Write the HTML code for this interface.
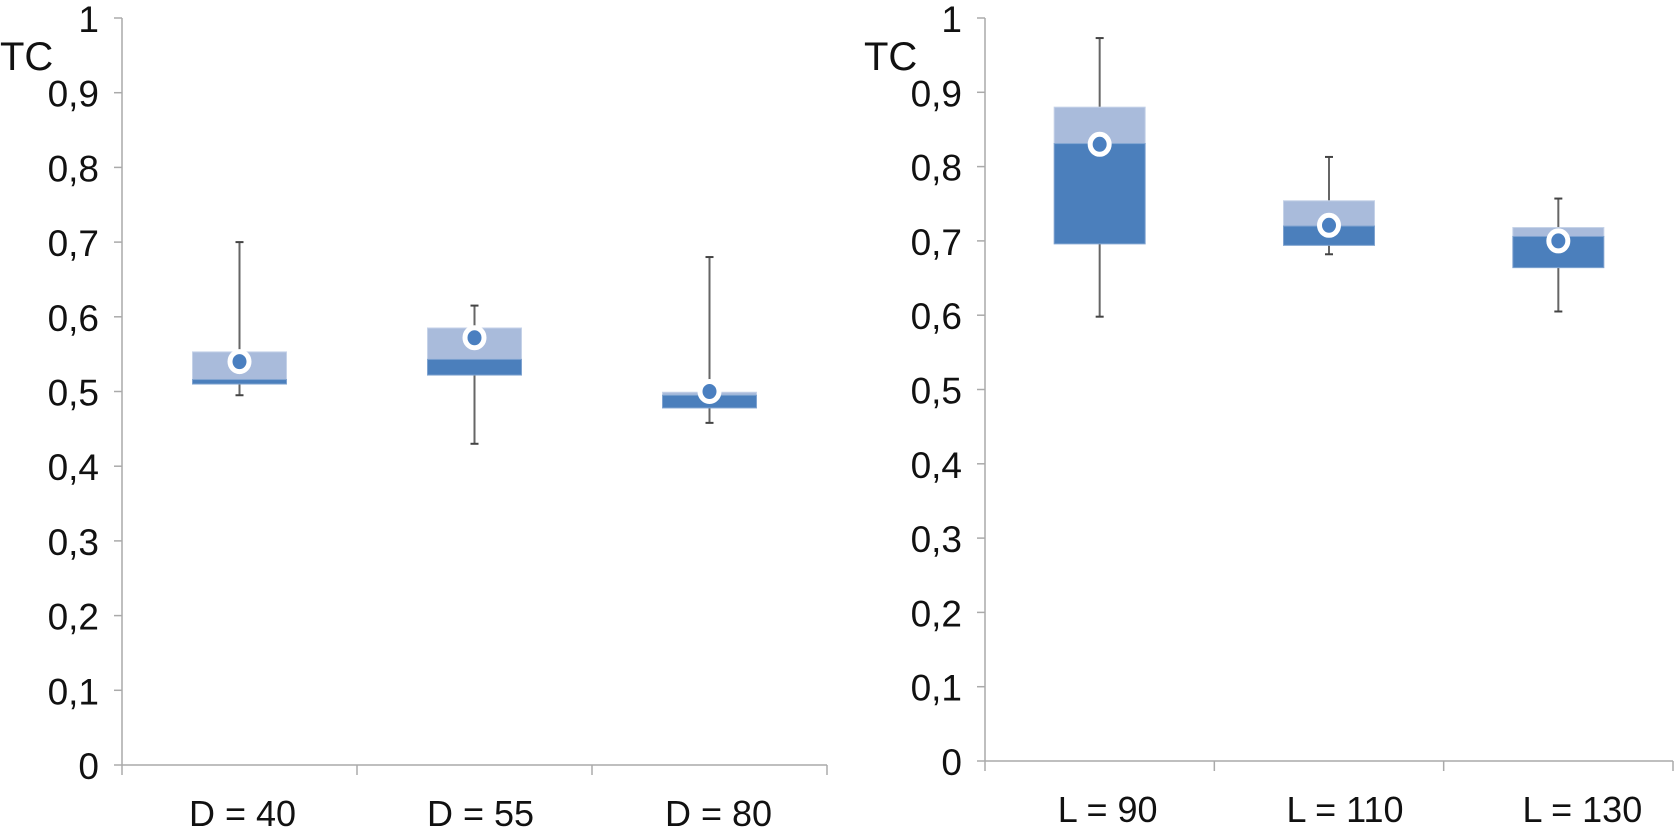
<!DOCTYPE html>
<html><head><meta charset="utf-8"><style>
html,body{margin:0;padding:0;background:#fff;}
svg{display:block;font-family:"Liberation Sans",Arial,sans-serif;}
</style></head><body>
<svg id="chart" width="1676" height="840" viewBox="0 0 1676 840"></svg>
<script>
const leftCategories = ["D = 40","D = 55","D = 80"];
const leftWhiskerLow = [0.495,0.43,0.458];
const leftWhiskerHigh = [0.70,0.615,0.68];
const leftQ1 = [0.51,0.522,0.478];
const leftMedian = [0.516,0.543,0.495];
const leftQ3 = [0.553,0.585,0.499];
const leftMean = [0.54,0.572,0.50];

const rightCategories = ["L = 90","L = 110","L = 130"];
const rightWhiskerLow = [0.598,0.682,0.605];
const rightWhiskerHigh = [0.973,0.813,0.757];
const rightQ1 = [0.696,0.694,0.664];
const rightMedian = [0.831,0.72,0.706];
const rightQ3 = [0.88,0.754,0.718];
const rightMean = [0.83,0.721,0.70];

const yTickLabels = ["0","0,1","0,2","0,3","0,4","0,5","0,6","0,7","0,8","0,9","1"];

const svg = document.getElementById('chart');
const NS = 'http://www.w3.org/2000/svg';
function mk(tag, attrs, parent){
  const e = document.createElementNS(NS, tag);
  for (const k in attrs) e.setAttribute(k, attrs[k]);
  (parent||svg).appendChild(e);
  return e;
}

function drawPanel(p){
  const g = mk('g', {});
  
  
  const y = v => p.y0 - v * (p.y0 - p.y1);
  const n = p.cats.length;
  const bw = (p.xEnd - p.x0) / n;
  const x = i => p.x0 + bw * (i + 0.5);
  const ya = mk('line', {x1:p.x0, y1:p.y1, x2:p.x0, y2:p.y0, stroke:'#aaa', 'stroke-width':1.5}, g);
  
  
  yTickLabels.forEach((t, i) => {
    const v = i / 10;
    mk('line', {x1:p.x0-8, y1:y(v), x2:p.x0, y2:y(v), stroke:'#aaa', 'stroke-width':1.5}, g);
    const tx = mk('text', {x:p.x0-23, y:y(v)+14, 'font-size':37, 'text-anchor':'end', fill:'#111'}, g);
    tx.textContent = t;
    
    
  });
  const title = mk('text', {x:p.titleX, y:70, 'font-size':40, fill:'#111'}, g);
  title.textContent = 'TC';
  
  
  const xa = mk('line', {x1:p.x0, y1:p.y0, x2:p.xEnd, y2:p.y0, stroke:'#aaa', 'stroke-width':1.5}, g);
  
  
  for (let i = 0; i <= n; i++) {
    mk('line', {x1:p.x0+bw*i, y1:p.y0, x2:p.x0+bw*i, y2:p.y0+10, stroke:'#aaa', 'stroke-width':1.5}, g);
  }
  p.cats.forEach((c, i) => {
    const cx = x(i);
    const lab = mk('text', {x:cx + p.labelShift*(i+1), y:p.y0+61, 'font-size':36, 'text-anchor':'middle', fill:'#111'}, g);
    lab.textContent = c;
    
    
    const w = mk('line', {x1:cx, y1:y(p.lo[i]), x2:cx, y2:y(p.hi[i]), stroke:'#666', 'stroke-width':2}, g);
    
    
    mk('line', {x1:cx-4, y1:y(p.lo[i]), x2:cx+4, y2:y(p.lo[i]), stroke:'#444', 'stroke-width':2}, g);
    mk('line', {x1:cx-4, y1:y(p.hi[i]), x2:cx+4, y2:y(p.hi[i]), stroke:'#444', 'stroke-width':2}, g);
    const bx = cx - p.boxW/2;
    const upper = mk('rect', {x:bx, y:y(p.q3[i]), width:p.boxW, height:y(p.med[i])-y(p.q3[i]), fill:'#a9bbdb', stroke:'#c5d2e8', 'stroke-width':1}, g);
    
    
    const lower = mk('rect', {x:bx, y:y(p.med[i]), width:p.boxW, height:y(p.q1[i])-y(p.med[i]), fill:'#4b7fbc', stroke:'#7fa3d0', 'stroke-width':1}, g);
    
    
    const m = mk('ellipse', {cx:cx, cy:y(p.mean[i]), rx:9.5, ry:10, fill:'#4a7fc0', stroke:'#fff', 'stroke-width':5}, g);
    
    
  });
}

drawPanel({name:'left-panel', cats:leftCategories, lo:leftWhiskerLow, hi:leftWhiskerHigh, q1:leftQ1, med:leftMedian, q3:leftQ3, mean:leftMean,
  x0:122, xEnd:827, y0:765, y1:18, boxW:94, titleX:0, labelShift:3});
drawPanel({name:'right-panel', cats:rightCategories, lo:rightWhiskerLow, hi:rightWhiskerHigh, q1:rightQ1, med:rightMedian, q3:rightQ3, mean:rightMean,
  x0:985, xEnd:1673, y0:761, y1:18, boxW:91, titleX:864, labelShift:8});
</script>
</body></html>
